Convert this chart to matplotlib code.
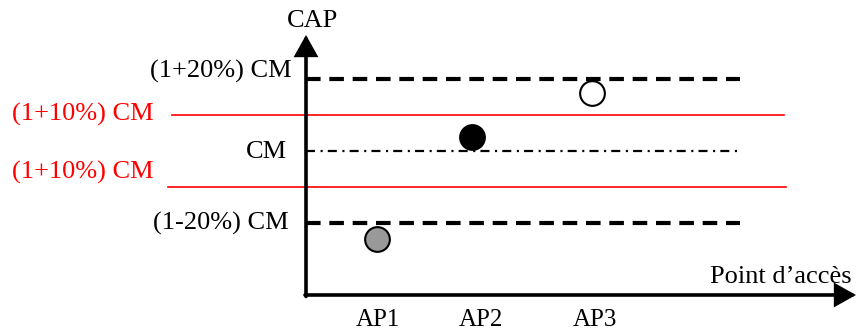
import matplotlib
matplotlib.use("Agg")
import matplotlib.pyplot as plt

plt.rcParams['font.family'] = ['Liberation Serif', 'DejaVu Serif']
plt.rcParams['lines.scale_dashes'] = False

# ---- data ----
categories = ['AP1', 'AP2', 'AP3']
tick_pos = [0.72, 1.75, 2.89]
point_x = [0.71, 1.66, 2.86]
cap_values = [0.757, 1.039, 1.160]
point_colors = ['#999999', 'black', 'white']

cm_level = 1.0
outer_levels = [1.2, 0.8]          # (1±20%) CM
inner_levels = [1.1, 0.9]          # (1±10%) CM
outer_labels = ['(1+20%) CM', '(1-20%) CM']
inner_labels = ['(1+10%) CM', '(1+10%) CM']
cm_label = 'CM'
y_title = 'CAP'
x_title = "Point d\u2019acc\u00e8s"

# ---- figure ----
fig = plt.figure(figsize=(8.56, 3.30), dpi=100)
ax = fig.add_axes([0, 0, 1, 1])
ax.set_xlim(-3.06, 5.50)
ax.set_ylim(0.5055, 1.4171)
ax.axis('off')

x0 = 0.0          # y-axis position
y0 = 0.6022       # x-axis position
x_end = 5.50
y_end = 1.3204
line_end = 4.34

# axes with arrows
arrow_kw = dict(arrowstyle='-|>,head_length=0.75,head_width=0.42',
                lw=2.6, color='black', shrinkA=0, shrinkB=0,
                mutation_scale=16, joinstyle='miter')
ax.annotate('', xy=(x0, y_end), xytext=(x0, y0 - 0.004), arrowprops=arrow_kw)
ax.annotate('', xy=(x_end, y0), xytext=(x0 - 0.01, y0), arrowprops=arrow_kw)

# outer dashed thresholds
for lvl in outer_levels:
    ax.plot([x0, line_end], [lvl, lvl], color='black', lw=3.0,
            dashes=(10.5, 6.3), solid_capstyle='butt', dash_capstyle='butt')

# CM dash-dot
ax.plot([x0, line_end], [cm_level, cm_level], color='black', lw=1.6,
        dashes=(6.5, 4.0, 1.5, 3.7), dash_capstyle='butt')

# red inner thresholds
red_starts = [-1.34, -1.38]
red_ends = [4.78, 4.80]
for lvl, xs, xe in zip(inner_levels, red_starts, red_ends):
    ax.plot([xs, xe], [lvl, lvl], color='#ff0000', lw=1.2)

# points
for px, v, c in zip(point_x, cap_values, point_colors):
    ax.plot(px, v, 'o', ms=17.8, mfc=c, mec='black', mew=1.5, zorder=5)

fs = 19
# labels
ax.text(0.06, 1.359, y_title, ha='center', va='center', fontsize=fs)
ax.text(-0.14, 1.2 + 0.019, outer_labels[0], ha='right', va='center', fontsize=fs)
ax.text(-0.17, 0.8, outer_labels[1], ha='right', va='center', fontsize=fs)
ax.text(-0.19, cm_level - 0.003, cm_label, ha='right', va='center', fontsize=fs)
ax.text(-1.52, 1.1, inner_labels[0], ha='right', va='center', fontsize=fs, color='#ff0000')
ax.text(-1.52, 0.9 + 0.04, inner_labels[1], ha='right', va='center', fontsize=fs, color='#ff0000')
ax.text(5.46, 0.652, x_title, ha='right', va='center', fontsize=fs)

for tp, lab in zip(tick_pos, categories):
    ax.text(tp, 0.533, lab, ha='center', va='center', fontsize=18)

fig.savefig('out.png', dpi=100)
